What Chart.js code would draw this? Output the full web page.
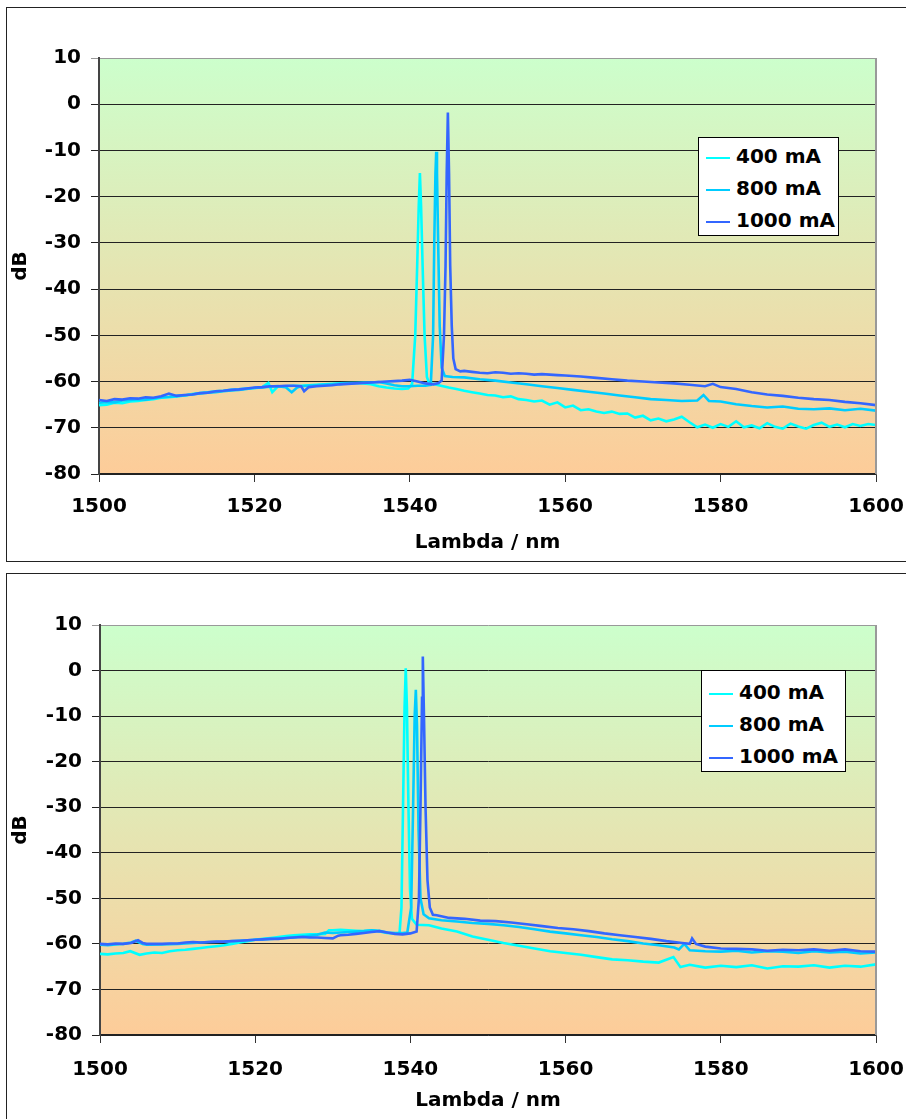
<!DOCTYPE html>
<html>
<head>
<meta charset="utf-8">
<script src="https://cdn.jsdelivr.net/npm/chart.js@4.4.0/dist/chart.umd.min.js"></script>
<style>
  body { margin: 0; width: 906px; height: 1119px; overflow: hidden; background: #fff; position: relative; }
  .frame { position: absolute; border: 1px solid #222; }
  .wrap { position: absolute; left: 0; width: 906px; }
  .legend { position: absolute; background: #fff; border: 1px solid #000; font: bold 20px "DejaVu Sans", sans-serif; color: #000; box-sizing: border-box; }
  .legend div { height: 32px; line-height: 32px; white-space: nowrap; }
  .legend .key { display: inline-block; width: 24px; height: 2px; vertical-align: middle; margin: 0 6px 0 7px; }
</style>
</head>
<body>
<div class="frame" style="left:6px; top:7px; width:950px; height:553px;"></div>
<div class="frame" style="left:6px; top:573px; width:950px; height:600px;"></div>
<div class="wrap" style="top:0; height:563px;"><canvas id="chartTop" width="906" height="563"></canvas></div>
<div class="wrap" style="top:567px; height:554px;"><canvas id="chartBottom" width="906" height="554"></canvas></div>
<div class="legend" id="legendTop" style="left:698px; top:137px; width:141px; height:99px; padding-top:2px;"></div>
<div class="legend" id="legendBottom" style="left:701px; top:670px; width:145px; height:102px; padding-top:5px;"></div>

<script>
const seriesNames = ['400 mA', '800 mA', '1000 mA'];
const seriesColors = ['#00ffff', '#00ccff', '#3366ff'];
const xTicks = [1500, 1520, 1540, 1560, 1580, 1600];
const yTicks = [-80, -70, -60, -50, -40, -30, -20, -10, 0, 10];

// upper chart
const top400x = [
  1500,1501,1502,1503,1504,1505,1506,1507,1508,1509,
  1510,1511,1512,1513,1514,1515,1516,1517,1518,1519,
  1520,1521,1521.8,1522.3,1523,1524,1525,1526,1527,1528,
  1529,1530,1531,1532,1533,1534,1535,1536,1537,1538,
  1539,1539.8,1540.3,1540.7,1540.95,1541.15,1541.3,1541.45,1541.65,1541.9,
  1542.2,1542.5,1543,1544,1545,1546,1547,1548,1549,1550,
  1551,1552,1553,1554,1555,1556,1557,1558,1559,1560,
  1561,1562,1563,1564,1565,1566,1567,1568,1569,1570,
  1571,1572,1573,1574,1575,1576,1577,1578,1579,1580,
  1581,1582,1583,1584,1585,1586,1587,1588,1589,1590,
  1591,1592,1593,1594,1595,1596,1597,1598,1599,1600
];
const top400y = [
  -65.1,-65.0,-64.6,-64.7,-64.3,-64.2,-64.0,-63.8,-63.5,-63.4,
  -63.2,-63.0,-62.7,-62.5,-62.3,-62.1,-62.0,-61.8,-61.7,-61.5,
  -61.4,-61.2,-60.3,-62.3,-61.1,-61.0,-60.9,-60.9,-60.8,-60.7,
  -60.6,-60.5,-60.4,-60.3,-60.3,-60.4,-60.6,-61.0,-61.3,-61.5,
  -61.6,-61.5,-60.5,-50,-35,-22,-14.9,-22,-35,-50,
  -59,-60.4,-60.5,-60.9,-61.3,-61.6,-62.0,-62.3,-62.6,-62.9,
  -63.0,-63.4,-63.2,-63.8,-64.0,-64.3,-64.1,-65.0,-64.5,-65.6,
  -65.2,-66.2,-66.0,-66.5,-66.8,-66.5,-67.0,-66.9,-67.8,-67.4,
  -68.4,-68.0,-68.6,-68.2,-67.6,-68.8,-69.9,-69.3,-70.0,-69.2,
  -69.8,-68.6,-69.9,-69.5,-70.1,-69.0,-69.8,-70.2,-69.1,-69.7,
  -70.2,-69.4,-68.9,-69.8,-69.3,-69.9,-69.2,-69.6,-69.2,-69.4
];
const top800x = [
  1500,1501,1502,1503,1504,1505,1506,1507,1508,1509,
  1510,1511,1512,1513,1514,1515,1516,1517,1518,1519,
  1520,1521,1522,1523,1524,1524.8,1525.5,1526,1527,1528,
  1529,1530,1531,1532,1533,1534,1535,1536,1537,1538,
  1539,1540,1541,1542,1542.7,1543.0,1543.15,1543.3,1543.4,1543.5,
  1543.65,1543.85,1544.1,1544.5,1545.5,1547,1549,1551,1553,1555,
  1557,1559,1561,1563,1565,1567,1569,1571,1573,1575,
  1577,1577.8,1578.5,1580,1582,1584,1586,1588,1590,1592,
  1594,1596,1598,1600
];
const top800y = [
  -64.6,-64.4,-64.5,-64.1,-64.0,-63.8,-63.9,-63.6,-63.4,-63.3,
  -63.1,-63.0,-62.8,-62.6,-62.4,-62.3,-62.1,-61.9,-61.8,-61.6,
  -61.4,-61.3,-61.1,-61.0,-61.2,-62.3,-61.3,-61.0,-60.9,-60.8,
  -60.7,-60.6,-60.5,-60.4,-60.3,-60.2,-60.2,-60.1,-60.4,-60.8,
  -61.0,-61.0,-60.9,-60.9,-60.7,-50,-30,-15,-10.3,-15,
  -30,-48,-57,-58.8,-59.0,-59.1,-59.5,-59.8,-60.2,-60.6,
  -61.0,-61.4,-61.8,-62.2,-62.6,-63.0,-63.4,-63.8,-64.0,-64.2,
  -64.1,-62.9,-64.2,-64.3,-64.9,-65.3,-65.6,-65.4,-65.9,-66.0,
  -65.8,-66.2,-65.9,-66.3
];
const top1000x = [
  1500,1501,1502,1503,1504,1505,1506,1507,1508,1509,
  1510,1511,1512,1513,1514,1515,1516,1517,1518,1519,
  1520,1521,1522,1523,1524,1525,1526,1526.4,1527,1528,
  1529,1530,1531,1532,1533,1534,1535,1536,1537,1538,
  1539,1540,1541,1542,1543,1543.7,1544.1,1544.4,1544.6,1544.75,
  1544.9,1545.05,1545.2,1545.4,1545.6,1545.9,1546.5,1547,1548,1549,
  1550,1551,1552,1553,1554,1555,1556,1557,1558,1559,
  1560,1562,1564,1566,1568,1570,1572,1574,1576,1578,
  1579,1580,1582,1584,1586,1588,1590,1592,1594,1596,
  1598,1600
];
const top1000y = [
  -64.0,-64.2,-63.8,-63.9,-63.6,-63.7,-63.4,-63.5,-63.2,-62.6,
  -63.1,-62.9,-62.8,-62.5,-62.4,-62.1,-62.0,-61.8,-61.7,-61.5,
  -61.3,-61.2,-61.0,-61.0,-60.9,-60.9,-61.0,-62.1,-61.2,-61.0,
  -60.9,-60.8,-60.6,-60.5,-60.4,-60.3,-60.2,-60.1,-60.0,-59.9,
  -59.8,-59.6,-60.0,-60.4,-60.6,-60.3,-59.8,-50,-35,-15,
  -1.8,-15,-35,-48,-55,-57.3,-57.8,-57.7,-57.9,-58.1,
  -58.2,-58.0,-58.1,-58.3,-58.2,-58.3,-58.5,-58.4,-58.5,-58.6,
  -58.7,-58.9,-59.2,-59.5,-59.8,-60.0,-60.2,-60.4,-60.7,-61.0,
  -60.5,-61.2,-61.6,-62.3,-62.8,-63.1,-63.5,-63.8,-64.0,-64.4,
  -64.7,-65.1
];

// lower chart
const bot400x = [
  1500,1501,1502,1503,1503.9,1505.1,1506,1507,1508,1509,
  1510,1511,1512,1513,1514,1515,1516,1517,1518,1519,
  1520,1521,1522,1523,1524,1525,1526,1527,1528,1529,
  1529.5,1530,1531,1532,1533,1534,1535,1536,1537,1538,
  1538.6,1538.85,1539.05,1539.25,1539.4,1539.55,1539.75,1539.95,1540.2,1540.8,
  1542.4,1544,1546,1548,1550,1552,1554,1556,1558,1560,
  1562,1564,1566,1568,1570,1572,1573.9,1574.8,1576,1578,
  1580,1582,1584,1586,1588,1590,1592,1594,1596,1598,
  1600
];
const bot400y = [
  -62.2,-62.3,-62.1,-62.0,-61.6,-62.4,-62.1,-61.9,-62.0,-61.6,
  -61.4,-61.3,-61.1,-60.9,-60.7,-60.5,-60.3,-60.0,-59.7,-59.4,
  -59.1,-58.9,-58.7,-58.5,-58.3,-58.1,-58.0,-57.9,-57.9,-57.8,
  -57.0,-57.0,-56.9,-57.0,-57.1,-57.2,-57.0,-57.3,-57.6,-57.7,
  -57.6,-52,-30,-8,0.5,-8,-30,-48,-54.5,-55.8,
  -55.9,-56.6,-57.3,-58.4,-59.1,-59.8,-60.4,-61.0,-61.6,-62.0,
  -62.4,-62.9,-63.4,-63.6,-63.9,-64.1,-62.9,-65.1,-64.6,-65.2,
  -64.8,-65.1,-64.7,-65.4,-64.9,-65.0,-64.7,-65.2,-64.8,-65.0,
  -64.5
];
const bot800x = [
  1500,1501,1502,1503,1504,1504.6,1505.5,1506,1508,1510,
  1512,1514,1516,1518,1520,1522,1524,1526,1527,1528,
  1529,1530,1531,1532,1533,1534,1535,1536,1537,1538,
  1539,1539.6,1540.1,1540.35,1540.55,1540.7,1540.85,1541.05,1541.3,1541.7,
  1542.4,1544,1546,1548,1550,1552,1554,1556,1558,1560,
  1562,1564,1566,1568,1570,1572,1574,1574.6,1575.3,1576.0,
  1578,1580,1582,1584,1586,1588,1590,1592,1594,1596,
  1598,1600
];
const bot800y = [
  -60.2,-60.3,-60.1,-60.0,-59.7,-59.3,-60.0,-60.2,-60.1,-60.0,
  -59.8,-59.6,-59.5,-59.3,-59.1,-58.9,-58.7,-58.4,-58.2,-58.0,
  -57.5,-57.6,-57.5,-57.4,-57.3,-57.2,-57.0,-57.1,-57.5,-57.6,
  -57.6,-57.5,-52,-30,-10,-4.2,-12,-35,-50,-53.5,
  -54.4,-54.8,-55.1,-55.4,-55.6,-55.9,-56.3,-56.8,-57.3,-57.7,
  -58.1,-58.5,-59.0,-59.4,-59.9,-60.3,-60.8,-61.2,-60.0,-61.4,
  -61.6,-61.7,-61.5,-61.9,-61.6,-61.7,-62.0,-61.6,-61.9,-61.7,
  -62.1,-61.9
];
const bot1000x = [
  1500,1501,1502,1503,1504,1504.9,1505.5,1506,1507,1508,
  1509,1510,1511,1512,1513,1514,1515,1516,1517,1518,
  1519,1520,1521,1522,1523,1524,1525,1526,1527,1528,
  1529,1530,1530.7,1531,1532,1533,1534,1535,1536,1537,
  1538,1539,1540,1540.8,1541.1,1541.3,1541.5,1541.6,1541.75,1541.95,
  1542.2,1542.5,1542.9,1543.4,1545,1547,1549,1551,1553,1555,
  1557,1559,1561,1563,1565,1567,1569,1571,1573,1575,
  1576,1576.3,1576.8,1578,1580,1582,1584,1586,1588,1590,
  1592,1594,1596,1598,1600
];
const bot1000y = [
  -60.0,-60.1,-59.9,-60.0,-59.8,-59.2,-59.8,-60.0,-60.0,-60.0,
  -59.9,-59.9,-59.7,-59.6,-59.7,-59.6,-59.5,-59.5,-59.4,-59.3,
  -59.2,-59.1,-59.0,-58.9,-58.9,-58.7,-58.6,-58.5,-58.6,-58.6,
  -58.7,-58.8,-58.2,-58.1,-58.0,-57.8,-57.6,-57.4,-57.2,-57.5,
  -57.8,-57.9,-57.7,-57.3,-50,-30,-6,3.1,-10,-30,
  -46,-52,-53.6,-53.7,-54.3,-54.5,-54.9,-55.0,-55.3,-55.7,
  -56.1,-56.5,-56.8,-57.2,-57.7,-58.1,-58.5,-58.9,-59.4,-59.8,
  -60.0,-58.8,-60.0,-60.6,-61.0,-61.1,-61.2,-61.5,-61.3,-61.4,
  -61.2,-61.5,-61.2,-61.6,-61.7
];

const FONT = { family: '"DejaVu Sans", sans-serif', size: 20, weight: 'bold' };

function pts(xs, ys) {
  return xs.map((x, i) => ({ x: x, y: ys[i] }));
}

const plotBg = {
  id: 'plotBg',
  beforeDraw(chart) {
    const a = chart.chartArea;
    const ctx = chart.ctx;
    const g = ctx.createLinearGradient(0, a.top, 0, a.bottom);
    g.addColorStop(0, '#ccffcc');
    g.addColorStop(1, '#fdcc99');
    ctx.save();
    ctx.fillStyle = g;
    ctx.fillRect(a.left, a.top, a.right - a.left, a.bottom - a.top);
    ctx.restore();
  },
  afterDraw(chart) {
    const a = chart.chartArea;
    const ctx = chart.ctx;
    ctx.save();
    ctx.strokeStyle = '#999';
    ctx.lineWidth = 2;
    ctx.beginPath();
    ctx.moveTo(a.right, a.top);
    ctx.lineTo(a.right, a.bottom);
    ctx.stroke();
    ctx.restore();
  }
};

function makeChart(id, xsList, ysList, area, canvasH, xPad) {
  const datasets = seriesNames.map((name, i) => ({
    label: name,
    data: pts(xsList[i], ysList[i]),
    borderColor: seriesColors[i],
    borderWidth: 2.6,
    pointRadius: 0,
    tension: 0,
    order: 2 - i
  }));
  return new Chart(document.getElementById(id), {
    type: 'line',
    data: { datasets },
    plugins: [plotBg],
    options: {
      responsive: false,
      animation: false,
      devicePixelRatio: 1,
      layout: { padding: { left: 0, right: 906 - area.right, top: area.top, bottom: 0 } },
      plugins: { legend: { display: false }, tooltip: { enabled: false } },
      scales: {
        x: {
          type: 'linear',
          min: xTicks[0],
          max: xTicks[xTicks.length - 1],
          afterBuildTicks: axis => { axis.ticks = xTicks.map(v => ({ value: v })); },
          afterFit: axis => {
            axis.height = canvasH - area.bottom;
            axis.paddingLeft = 0;
            axis.paddingRight = 0;
          },
          ticks: { font: FONT, color: '#000', padding: xPad, maxRotation: 0, callback: v => String(v) },
          grid: { drawOnChartArea: false, drawTicks: true, tickLength: 8, color: '#333' },
          border: { color: '#222', width: 1.5 },
          title: { display: true, text: 'Lambda / nm', font: FONT, color: '#000', padding: { top: 0, bottom: 8 } }
        },
        y: {
          min: yTicks[0],
          max: yTicks[yTicks.length - 1],
          afterBuildTicks: axis => { axis.ticks = yTicks.map(v => ({ value: v })); },
          afterFit: axis => {
            axis.width = area.left;
            axis.paddingTop = 0;
            axis.paddingBottom = 0;
          },
          ticks: { font: FONT, color: '#000', padding: 10, callback: v => String(v) },
          grid: {
            tickLength: 8,
            lineWidth: 1,
            color: c => (c.tick && c.tick.value === 10 ? '#999' : '#222')
          },
          border: { color: '#444', width: 2 },
          title: { display: true, text: 'dB', font: FONT, color: '#000', padding: { top: 9, bottom: 0 } }
        }
      }
    }
  });
}

function makeLegend(id) {
  const box = document.getElementById(id);
  seriesNames.forEach((name, i) => {
    const row = document.createElement('div');
    const key = document.createElement('span');
    key.className = 'key';
    key.style.background = seriesColors[i];
    row.appendChild(key);
    row.appendChild(document.createTextNode(name));
    box.appendChild(row);
  });
}

makeChart('chartTop', [top400x, top800x, top1000x], [top400y, top800y, top1000y],
  { left: 99, right: 876, top: 58, bottom: 474 }, 563, 13);
makeChart('chartBottom', [bot400x, bot800x, bot1000x], [bot400y, bot800y, bot1000y],
  { left: 100, right: 876, top: 58, bottom: 468 }, 554, 15);
makeLegend('legendTop');
makeLegend('legendBottom');
</script>
</body>
</html>
